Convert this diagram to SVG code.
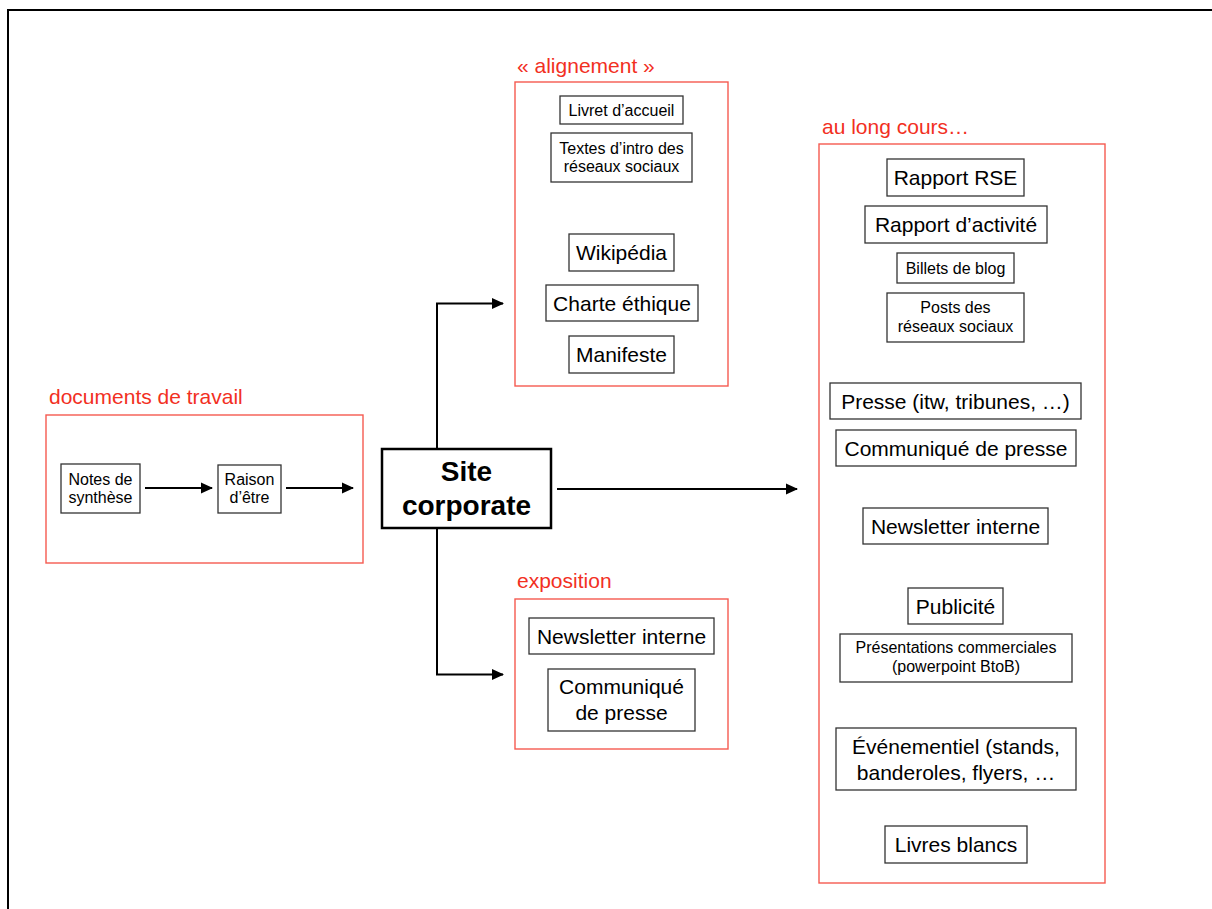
<svg xmlns="http://www.w3.org/2000/svg" width="1212" height="909" viewBox="0 0 1212 909">
<style>
text{font-family:"Liberation Sans",Arial,sans-serif;fill:#000;text-anchor:middle}
.lbl{fill:#f2301f;font-size:21px;text-anchor:start}
.grp{fill:none;stroke:#f55a50;stroke-width:1.4}
.box{fill:#fff;stroke:#333;stroke-width:1.3}
.s{font-size:16px}
.l{font-size:21px}
.conn{fill:none;stroke:#000;stroke-width:2}
</style>
<defs>
<marker id="ah" markerUnits="userSpaceOnUse" markerWidth="12" markerHeight="12" refX="11" refY="6" orient="auto" viewBox="0 0 12 12">
<path d="M0,0.5 L12,6 L0,11.5 z" fill="#000"/>
</marker>
</defs>
<rect width="1212" height="909" fill="#fff"/>
<path d="M8,910 V10 H1212" fill="none" stroke="#000" stroke-width="2"/>

<g id="group-documents">
<text class="lbl" x="49" y="404">documents de travail</text>
<rect class="grp" x="46" y="415" width="317" height="148"/>
</g>
<g id="node-notes">
<rect class="box" x="61" y="464" width="79" height="49"/>
<text class="s" x="100.5" y="485">Notes de</text>
<text class="s" x="100.5" y="503">synthèse</text>
</g>
<g id="node-raison">
<rect class="box" x="218" y="465" width="63" height="48"/>
<text class="s" x="249.5" y="485">Raison</text>
<text class="s" x="249.5" y="503">d’être</text>
</g>

<g id="node-site">
<rect x="382" y="449" width="169" height="79" fill="#fff" stroke="#000" stroke-width="2.5"/>
<text x="466.5" y="481" font-size="28" font-weight="bold">Site</text>
<text x="466.5" y="515" font-size="28" font-weight="bold">corporate</text>
</g>

<g id="group-alignement">
<text class="lbl" x="517" y="73">« alignement »</text>
<rect class="grp" x="515" y="82" width="213" height="304"/>
</g>
<g id="node-livret">
<rect class="box" x="560" y="96" width="123" height="28"/>
<text class="s" x="621.5" y="116">Livret d’accueil</text>
</g>
<g id="node-textes">
<rect class="box" x="551" y="133" width="141" height="49"/>
<text class="s" x="621.5" y="154">Textes d’intro des</text>
<text class="s" x="621.5" y="172">réseaux sociaux</text>
</g>
<g id="node-wikipedia">
<rect class="box" x="569" y="234" width="105" height="37"/>
<text class="l" x="621.5" y="260">Wikipédia</text>
</g>
<g id="node-charte">
<rect class="box" x="546" y="285" width="152" height="36"/>
<text class="l" x="622" y="311">Charte éthique</text>
</g>
<g id="node-manifeste">
<rect class="box" x="569" y="336" width="105" height="37"/>
<text class="l" x="621.5" y="362">Manifeste</text>
</g>

<g id="group-exposition">
<text class="lbl" x="517" y="588">exposition</text>
<rect class="grp" x="515" y="599" width="213" height="150"/>
</g>
<g id="node-expo-newsletter">
<rect class="box" x="529" y="618" width="185" height="36"/>
<text class="l" x="621.5" y="644">Newsletter interne</text>
</g>
<g id="node-expo-communique">
<rect class="box" x="548" y="669" width="147" height="62"/>
<text class="l" x="621.5" y="694">Communiqué</text>
<text class="l" x="621.5" y="720">de presse</text>
</g>

<g id="group-long-cours">
<text class="lbl" x="822" y="134">au long cours…</text>
<rect class="grp" x="819" y="144" width="286" height="739"/>
</g>
<g id="node-rse">
<rect class="box" x="887" y="159" width="137" height="37"/>
<text class="l" x="955.5" y="185">Rapport RSE</text>
</g>
<g id="node-activite">
<rect class="box" x="865" y="206" width="182" height="37"/>
<text class="l" x="956" y="232">Rapport d’activité</text>
</g>
<g id="node-billets">
<rect class="box" x="897" y="253" width="117" height="30"/>
<text class="s" x="955.5" y="274">Billets de blog</text>
</g>
<g id="node-posts">
<rect class="box" x="887" y="293" width="137" height="49"/>
<text class="s" x="955.5" y="313">Posts des</text>
<text class="s" x="955.5" y="331.5">réseaux sociaux</text>
</g>
<g id="node-presse">
<rect class="box" x="830" y="383" width="251" height="36"/>
<text class="l" x="955.5" y="409">Presse (itw, tribunes, …)</text>
</g>
<g id="node-communique">
<rect class="box" x="836" y="430" width="240" height="36"/>
<text class="l" x="956" y="456">Communiqué de presse</text>
</g>
<g id="node-newsletter">
<rect class="box" x="863" y="508" width="185" height="36"/>
<text class="l" x="955.5" y="534">Newsletter interne</text>
</g>
<g id="node-publicite">
<rect class="box" x="908" y="588" width="95" height="36"/>
<text class="l" x="955.5" y="614">Publicité</text>
</g>
<g id="node-presentations">
<rect class="box" x="840" y="634" width="232" height="48"/>
<text class="s" x="956" y="653">Présentations commerciales</text>
<text class="s" x="956" y="671.5">(powerpoint BtoB)</text>
</g>
<g id="node-evenementiel">
<rect class="box" x="836" y="728" width="240" height="62"/>
<text class="l" x="956" y="754">Événementiel (stands,</text>
<text class="l" x="956" y="780">banderoles, flyers, …</text>
</g>
<g id="node-livres">
<rect class="box" x="885" y="826" width="142" height="37"/>
<text class="l" x="956" y="852">Livres blancs</text>
</g>

<g id="connectors">
<path class="conn" d="M145,488 H212" marker-end="url(#ah)"/>
<path class="conn" d="M286,488 H353" marker-end="url(#ah)"/>
<path class="conn" d="M437,449 V303.5 H503" marker-end="url(#ah)"/>
<path class="conn" d="M437,528 V674.5 H503" marker-end="url(#ah)"/>
<path class="conn" d="M557,489 H797" marker-end="url(#ah)"/>
</g>
</svg>
